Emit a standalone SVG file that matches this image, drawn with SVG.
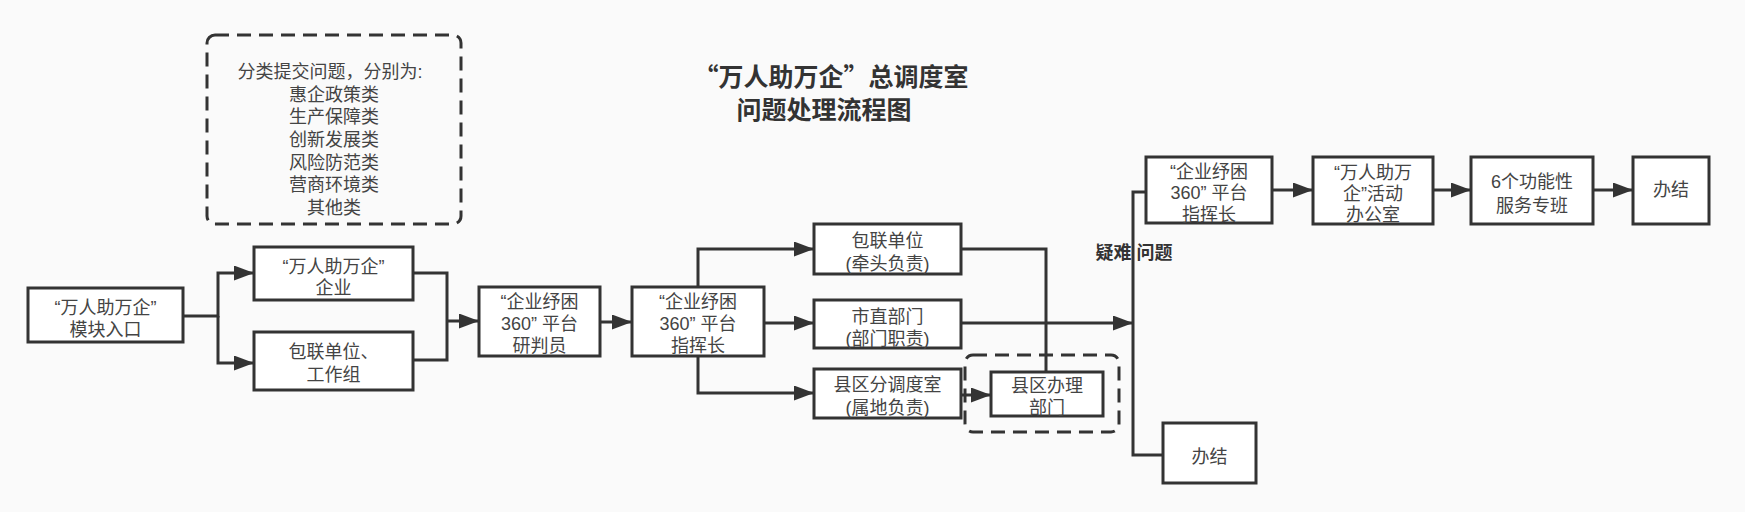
<svg xmlns="http://www.w3.org/2000/svg" width="1745" height="512" viewBox="0 0 1745 512">
<defs>
<marker id="arr" markerUnits="userSpaceOnUse" markerWidth="20" markerHeight="15" refX="20" refY="7.5" orient="auto">
<path d="M0,0 L20,7.5 L0,15 z" fill="#333"/>
</marker>
<style>
.box{fill:#fff;stroke:#333;stroke-width:3}
.dash{fill:none;stroke:#333;stroke-width:3;stroke-dasharray:14 8}
.t{font-family:"Liberation Sans","Noto Sans CJK SC",sans-serif;font-size:18px;fill:#444;text-anchor:middle;dominant-baseline:central}
.title{font-family:"Noto Sans CJK SC",sans-serif;font-size:25px;font-weight:bold;fill:#333;text-anchor:middle;dominant-baseline:central}
.lbl{font-family:"Liberation Sans","Noto Sans CJK SC",sans-serif;font-size:18px;font-weight:bold;fill:#333;text-anchor:middle;dominant-baseline:central}
.c{fill:none;stroke:#333;stroke-width:3}
.ca{fill:none;stroke:#333;stroke-width:3;marker-end:url(#arr)}
</style>
</defs>
<rect width="1745" height="512" fill="#fafafa"/>
<g id="title">
<text class="title" x="831" y="75">“万人助万企”总调度室</text>
<text class="title" x="824" y="108">问题处理流程图</text>
</g>
<g id="categories">
<rect class="dash" x="207" y="35" width="254" height="189" rx="8"/>
<text class="t" x="330" y="72">分类提交问题，分别为:</text>
<text class="t" x="334" y="95">惠企政策类</text>
<text class="t" x="334" y="117">生产保障类</text>
<text class="t" x="334" y="140">创新发展类</text>
<text class="t" x="334" y="163">风险防范类</text>
<text class="t" x="334" y="185">营商环境类</text>
<text class="t" x="334" y="208">其他类</text>
</g>
<g id="connectors">
<path class="ca" d="M183,316 H218 V273 H254"/>
<path class="ca" d="M218,316 V363 H254"/>
<path class="c" d="M413,273 H447 V360 H413"/>
<path class="ca" d="M447,321 H479"/>
<path class="ca" d="M600,322 H632"/>
<path class="ca" d="M698,287 V249 H814"/>
<path class="ca" d="M764,323 H814"/>
<path class="ca" d="M698,356 V393 H814"/>
<path class="c" d="M961,249 H1046 V372"/>
<path class="ca" d="M961,323 H1133"/>
<path class="ca" d="M961,395 H991"/>
<path class="c" d="M1146,192 H1133 V455 H1163"/>
<path class="ca" d="M1272,190 H1313"/>
<path class="ca" d="M1433,190 H1471"/>
<path class="ca" d="M1593,190 H1633"/>
</g>
<g id="n-entry">
<rect class="box" x="28" y="288" width="155" height="54"/>
<text class="t" x="105.5" y="308">“万人助万企”</text>
<text class="t" x="105.5" y="330">模块入口</text>
</g>
<g id="n-enterprise">
<rect class="box" x="254" y="247" width="159" height="53"/>
<text class="t" x="333.5" y="267">“万人助万企”</text>
<text class="t" x="333.5" y="288">企业</text>
</g>
<g id="n-unit">
<rect class="box" x="254" y="332" width="159" height="58"/>
<text class="t" x="333.5" y="352">包联单位、</text>
<text class="t" x="333.5" y="375">工作组</text>
</g>
<g id="n-judge">
<rect class="box" x="479" y="287" width="121" height="69"/>
<text class="t" x="539.5" y="302">“企业纾困</text>
<text class="t" x="539.5" y="324">360”  平台</text>
<text class="t" x="539.5" y="346">研判员</text>
</g>
<g id="n-commander">
<rect class="box" x="632" y="287" width="132" height="69"/>
<text class="t" x="698" y="302">“企业纾困</text>
<text class="t" x="698" y="324">360”  平台</text>
<text class="t" x="698" y="346">指挥长</text>
</g>
<g id="n-lead">
<rect class="box" x="814" y="224" width="147" height="50"/>
<text class="t" x="887.5" y="241">包联单位</text>
<text class="t" x="887.5" y="264">(牵头负责)</text>
</g>
<g id="n-city">
<rect class="box" x="814" y="300" width="147" height="48"/>
<text class="t" x="887.5" y="317">市直部门</text>
<text class="t" x="887.5" y="339">(部门职责)</text>
</g>
<g id="n-county">
<rect class="box" x="814" y="369" width="147" height="49"/>
<text class="t" x="887.5" y="385">县区分调度室</text>
<text class="t" x="887.5" y="408">(属地负责)</text>
</g>
<g id="n-county-dept">
<rect class="dash" x="965" y="355" width="154" height="77" rx="8"/>
<rect class="box" x="991" y="372" width="112" height="44"/>
<text class="t" x="1047" y="386">县区办理</text>
<text class="t" x="1047" y="408">部门</text>
</g>
<g id="label-hard">
<text class="lbl" x="1134" y="253">疑难 问题</text>
</g>
<g id="n-commander2">
<rect class="box" x="1146" y="157" width="126" height="66"/>
<text class="t" x="1209" y="172">“企业纾困</text>
<text class="t" x="1209" y="193">360”  平台</text>
<text class="t" x="1209" y="215">指挥长</text>
</g>
<g id="n-done1">
<rect class="box" x="1163" y="423" width="93" height="60"/>
<text class="t" x="1209.5" y="457">办结</text>
</g>
<g id="n-office">
<rect class="box" x="1313" y="157" width="120" height="67"/>
<text class="t" x="1373" y="173">“万人助万</text>
<text class="t" x="1373" y="194">企”活动</text>
<text class="t" x="1373" y="215">办公室</text>
</g>
<g id="n-service">
<rect class="box" x="1471" y="157" width="122" height="67"/>
<text class="t" x="1532" y="182">6个功能性</text>
<text class="t" x="1532" y="206">服务专班</text>
</g>
<g id="n-done2">
<rect class="box" x="1633" y="157" width="76" height="67"/>
<text class="t" x="1671" y="190">办结</text>
</g>
</svg>
